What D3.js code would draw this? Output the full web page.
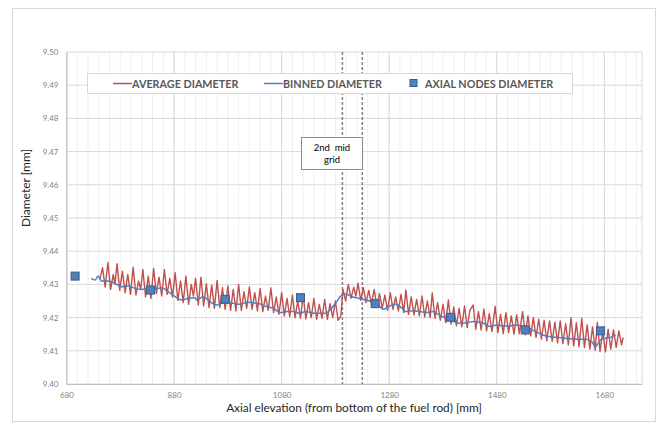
<!DOCTYPE html>
<html>
<head>
<meta charset="utf-8">
<script src="https://cdn.jsdelivr.net/npm/d3@7"></script>
<style>
  body { margin: 0; background: #fff; }
  svg text { font-family: Lato, "Liberation Sans", sans-serif; }
</style>
</head>
<body>
<div id="vis"></div>
<script>
// average diameter along the rod [elevation mm, diameter mm]
var averageDiameter = [
  [742,9.4315],[747,9.4350],[752,9.4292],[757,9.4366],[762,9.4285],[767,9.4330],[770,9.4300],[774,9.4362],
  [779,9.4282],[784,9.4340],[789,9.4275],[794,9.4330],[799,9.4270],[804,9.4352],[809,9.4268],[814,9.4310],
  [818,9.4285],[822,9.4345],[827,9.4262],[832,9.4325],[837,9.4258],[842,9.4348],[847,9.4272],[852,9.4322],
  [857,9.4265],[862,9.4345],[867,9.4270],[872,9.4318],[877,9.4262],[882,9.4335],[887,9.4252],[892,9.4310],
  [897,9.4245],[902,9.4325],[907,9.4240],[912,9.4300],[916,9.4265],[920,9.4318],[925,9.4238],[930,9.4322],
  [935,9.4235],[940,9.4302],[945,9.4230],[950,9.4298],[955,9.4228],[960,9.4312],[965,9.4230],[970,9.4290],
  [975,9.4225],[980,9.4295],[985,9.4222],[990,9.4285],[995,9.4220],[1000,9.4300],[1005,9.4222],[1010,9.4278],
  [1015,9.4228],[1020,9.4292],[1025,9.4225],[1030,9.4275],[1035,9.4220],[1040,9.4288],[1045,9.4218],[1050,9.4265],
  [1055,9.4222],[1060,9.4289],[1065,9.4215],[1070,9.4262],[1075,9.4210],[1080,9.4275],[1085,9.4205],[1090,9.4258],
  [1095,9.4203],[1100,9.4268],[1105,9.4200],[1110,9.4250],[1115,9.4198],[1120,9.4268],[1125,9.4196],[1130,9.4245],
  [1135,9.4200],[1140,9.4258],[1145,9.4195],[1150,9.4240],[1155,9.4198],[1160,9.4255],[1165,9.4195],[1170,9.4242],
  [1175,9.4200],[1180,9.4250],[1185,9.4192],[1190,9.4205],[1194,9.4285],[1199,9.4250],[1204,9.4300],[1209,9.4258],
  [1214,9.4292],[1218,9.4265],[1222,9.4304],[1227,9.4252],[1232,9.4290],[1237,9.4245],[1242,9.4282],[1247,9.4240],
  [1252,9.4285],[1257,9.4235],[1262,9.4272],[1267,9.4228],[1272,9.4268],[1277,9.4222],[1282,9.4275],[1287,9.4225],
  [1292,9.4262],[1297,9.4220],[1302,9.4270],[1307,9.4215],[1311,9.4283],[1316,9.4210],[1321,9.4262],[1326,9.4208],
  [1331,9.4255],[1336,9.4205],[1341,9.4265],[1346,9.4202],[1351,9.4250],[1356,9.4200],[1360,9.4274],[1365,9.4198],
  [1370,9.4245],[1375,9.4192],[1380,9.4240],[1385,9.4185],[1390,9.4253],[1395,9.4180],[1400,9.4232],[1405,9.4175],
  [1410,9.4228],[1415,9.4172],[1420,9.4235],[1425,9.4170],[1430,9.4222],[1436,9.4238],[1441,9.4165],[1446,9.4218],
  [1451,9.4162],[1456,9.4226],[1461,9.4160],[1466,9.4212],[1471,9.4158],[1477,9.4234],[1482,9.4155],[1487,9.4210],
  [1492,9.4152],[1497,9.4215],[1502,9.4155],[1507,9.4205],[1512,9.4150],[1517,9.4208],[1522,9.4152],[1528,9.4218],
  [1533,9.4148],[1538,9.4205],[1543,9.4145],[1548,9.4200],[1553,9.4140],[1558,9.4195],[1563,9.4135],[1568,9.4192],
  [1573,9.4130],[1578,9.4190],[1583,9.4128],[1588,9.4186],[1593,9.4124],[1598,9.4190],[1603,9.4122],[1608,9.4182],
  [1613,9.4118],[1618,9.4200],[1623,9.4115],[1628,9.4185],[1633,9.4112],[1638,9.4198],[1643,9.4110],[1648,9.4178],
  [1653,9.4105],[1658,9.4172],[1663,9.4102],[1667,9.4186],[1672,9.4098],[1677,9.4160],[1682,9.4097],[1687,9.4165],
  [1692,9.4105],[1697,9.4163],[1702,9.4110],[1707,9.4160],[1712,9.4118],[1715,9.4140]
];

// binned diameter
var binnedDiameter = [
  [726,9.4318],[733,9.4313],[739,9.4325],[745,9.4310],[757,9.4310],[770,9.4303],[783,9.4293],[795,9.4296],
  [807,9.4288],[820,9.4285],[832,9.4288],[845,9.4286],[857,9.4290],[869,9.4278],[882,9.4263],[894,9.4253],
  [907,9.4258],[919,9.4260],[922,9.4253],[934,9.4263],[947,9.4248],[959,9.4238],[972,9.4245],[990,9.4243],
  [1003,9.4240],[1015,9.4246],[1028,9.4245],[1040,9.4241],[1052,9.4233],[1065,9.4228],[1077,9.4215],[1090,9.4218],
  [1102,9.4218],[1114,9.4213],[1124,9.4218],[1142,9.4213],[1161,9.4213],[1170,9.4223],[1180,9.4243],[1192,9.4268],
  [1198,9.4271],[1211,9.4263],[1223,9.4258],[1235,9.4253],[1248,9.4248],[1260,9.4238],[1269,9.4225],[1279,9.4233],
  [1291,9.4241],[1304,9.4228],[1310,9.4218],[1325,9.4221],[1338,9.4218],[1350,9.4215],[1362,9.4218],[1375,9.4205],
  [1387,9.4198],[1400,9.4188],[1412,9.4183],[1425,9.4185],[1437,9.4188],[1455,9.4183],[1468,9.4173],[1480,9.4178],
  [1493,9.4175],[1505,9.4175],[1514,9.4178],[1533,9.4173],[1552,9.4158],[1570,9.4145],[1589,9.4141],[1607,9.4138],
  [1626,9.4135],[1645,9.4135],[1657,9.4127],[1663,9.4112],[1673,9.4133],[1682,9.4138],[1694,9.4142],[1701,9.4148]
];

// axial nodes
var nodeElevation = [696, 836, 975, 1115, 1254, 1394, 1533, 1673];
var nodeDiameter  = [9.4325, 9.4283, 9.4255, 9.4260, 9.4242, 9.4201, 9.4163, 9.4160];

var xTicks = [680, 880, 1080, 1280, 1480, 1680];
var yTicks = [9.40, 9.41, 9.42, 9.43, 9.44, 9.45, 9.46, 9.47, 9.48, 9.49, 9.50];
var gridMarks = [1193, 1230];

var w = 663;
var h = 432;
var plotLeft = 66.5, plotRight = 642, plotTop = 52, plotBottom = 384;

var svg = d3.select("#vis").append("svg")
  .attr("width", w)
  .attr("height", h);

// chart border
svg.append("rect")
  .attr("x", 12.5).attr("y", 8.5)
  .attr("width", 643).attr("height", 413)
  .attr("fill", "#fff")
  .attr("stroke", "#d9d9d9");

var x = d3.scaleLinear().domain([680, 1750]).range([plotLeft, plotRight]);
var y = d3.scaleLinear().domain([9.40, 9.50]).range([plotBottom, plotTop]);

// minor vertical gridlines
svg.append("g").selectAll("line")
  .data(d3.range(680, 1751, 20))
  .enter().append("line")
  .attr("x1", function(d) { return x(d); })
  .attr("x2", function(d) { return x(d); })
  .attr("y1", plotTop).attr("y2", plotBottom)
  .attr("stroke", "#efefef");

// major gridlines
svg.append("g").selectAll("line")
  .data(xTicks)
  .enter().append("line")
  .attr("x1", function(d) { return x(d); })
  .attr("x2", function(d) { return x(d); })
  .attr("y1", plotTop).attr("y2", plotBottom)
  .attr("stroke", "#d9d9d9");

svg.append("g").selectAll("line")
  .data(yTicks)
  .enter().append("line")
  .attr("x1", plotLeft).attr("x2", plotRight)
  .attr("y1", function(d) { return y(d); })
  .attr("y2", function(d) { return y(d); })
  .attr("stroke", "#d9d9d9");

svg.append("line")
  .attr("x1", plotRight).attr("x2", plotRight)
  .attr("y1", plotTop).attr("y2", plotBottom)
  .attr("stroke", "#d9d9d9");

// axes
var xAxis = svg.append("g")
  .attr("transform", "translate(0," + plotBottom + ")")
  .call(d3.axisBottom(x).tickValues(xTicks).tickSize(0).tickPadding(8).tickFormat(d3.format("d")));
var yAxis = svg.append("g")
  .attr("transform", "translate(" + plotLeft + ",0)")
  .call(d3.axisLeft(y).tickValues(yTicks).tickSize(0).tickPadding(8).tickFormat(d3.format(".2f")));

[xAxis, yAxis].forEach(function(a) {
  a.select(".domain").attr("stroke", "#bfbfbf");
  a.selectAll("text").attr("fill", "#7f7f7f").style("font-size", "8px");
});

// dashed lines at the mid grid
svg.append("g").selectAll("line")
  .data(gridMarks)
  .enter().append("line")
  .attr("x1", function(d) { return x(d); })
  .attr("x2", function(d) { return x(d); })
  .attr("y1", plotTop).attr("y2", plotBottom)
  .attr("stroke", "#7f7f7f")
  .attr("stroke-width", 1.5)
  .attr("stroke-dasharray", "3,2");

var line = d3.line()
  .x(function(d) { return x(d[0]); })
  .y(function(d) { return y(d[1]); });

svg.append("path")
  .datum(averageDiameter)
  .attr("d", line)
  .attr("fill", "none")
  .attr("stroke", "#c0504d")
  .attr("stroke-width", 1.4)
  .attr("stroke-linejoin", "round");

var smooth = d3.line()
  .curve(d3.curveMonotoneX)
  .x(function(d) { return x(d[0]); })
  .y(function(d) { return y(d[1]); });

svg.append("path")
  .datum(binnedDiameter)
  .attr("d", smooth)
  .attr("fill", "none")
  .attr("stroke", "#4f81bd")
  .attr("stroke-width", 1.5);

svg.append("g").selectAll("rect")
  .data(nodeElevation)
  .enter().append("rect")
  .attr("x", function(d) { return x(d) - 4; })
  .attr("y", function(d, i) { return y(nodeDiameter[i]) - 4; })
  .attr("width", 8).attr("height", 8)
  .attr("fill", "#4f81bd")
  .attr("stroke", "#385d8a");

// annotation box
svg.append("rect")
  .attr("x", 301.5).attr("y", 137.5)
  .attr("width", 61).attr("height", 32)
  .attr("fill", "#fff")
  .attr("stroke", "#8c8c8c");
svg.append("text")
  .attr("x", 332).attr("y", 151)
  .attr("text-anchor", "middle")
  .style("font-size", "9.5px")
  .style("white-space", "pre")
  .attr("fill", "#000")
  .text("2nd  mid");
svg.append("text")
  .attr("x", 332).attr("y", 163)
  .attr("text-anchor", "middle")
  .style("font-size", "9.5px")
  .attr("fill", "#000")
  .text("grid");

// legend
var legend = svg.append("g");
legend.append("rect")
  .attr("x", 87.5).attr("y", 73.5)
  .attr("width", 485).attr("height", 20)
  .attr("fill", "#fff")
  .attr("stroke", "#d9d9d9");

var legendItems = [
  { label: "AVERAGE DIAMETER", color: "#c0504d", type: "line", x: 113 },
  { label: "BINNED DIAMETER", color: "#4f81bd", type: "line", x: 264 },
  { label: "AXIAL NODES DIAMETER", color: "#4f81bd", type: "square", x: 410 }
];
legendItems.forEach(function(d) {
  if (d.type === "line") {
    legend.append("line")
      .attr("x1", d.x).attr("x2", d.x + 19)
      .attr("y1", 83.5).attr("y2", 83.5)
      .attr("stroke", d.color).attr("stroke-width", 1.5);
  } else {
    legend.append("rect")
      .attr("x", d.x).attr("y", 79.5)
      .attr("width", 7).attr("height", 7)
      .attr("fill", d.color).attr("stroke", "#385d8a");
  }
  legend.append("text")
    .attr("x", d.type === "line" ? d.x + 19 : d.x + 15)
    .attr("y", 87.5)
    .attr("fill", "#595959")
    .style("font-size", "10.8px")
    .style("font-weight", "bold")
    .text(d.label);
});

// axis titles
svg.append("text")
  .attr("x", 354).attr("y", 412)
  .attr("text-anchor", "middle")
  .style("font-size", "11.8px")
  .attr("fill", "#262626")
  .text("Axial elevation (from bottom of the fuel rod) [mm]");

svg.append("text")
  .attr("transform", "translate(30,188) rotate(-90)")
  .attr("text-anchor", "middle")
  .style("font-size", "12px")
  .attr("fill", "#262626")
  .text("Diameter [mm]");
</script>
</body>
</html>
